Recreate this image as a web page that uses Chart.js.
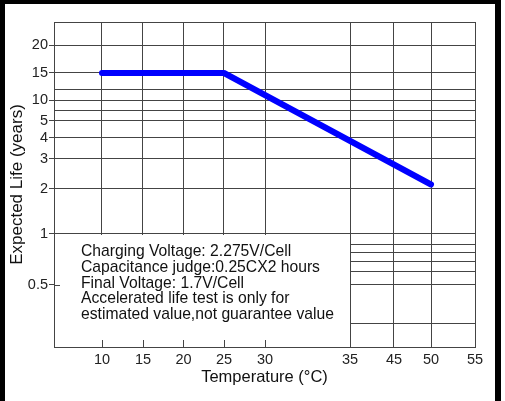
<!DOCTYPE html>
<html>
<head>
<meta charset="utf-8">
<script src="https://cdn.jsdelivr.net/npm/chart.js@4/dist/chart.umd.min.js"></script>
<style>
html, body { margin: 0; padding: 0; background: #fff; }
#wrap { position: relative; width: 505px; height: 401px; }
</style>
</head>
<body>
<div id="wrap"><canvas id="life" width="505" height="401"></canvas></div>
<script>
// expected life of the cell against temperature
var temps = [10, 25, 50];
var lifeYears = [15, 15, 2.15];

// printed tick labels
var xTicks = [10, 15, 20, 25, 30, 35, 45, 50, 55];
var yTicks = [0.5, 1, 2, 3, 4, 5, 10, 15, 20];
// unlabelled rules of the printed grid
var yRules = [0.3, 0.6, 0.7, 0.8, 0.9, 7, 12, 25];

var notes = [
    'Charging Voltage: 2.275V/Cell',
    'Capacitance judge:0.25CX2 hours',
    'Final Voltage: 1.7V/Cell',
    'Accelerated life test is only for',
    'estimated value,not guarantee value'
];

// the printed axes are not even, so each axis is stretched piece by piece
// [value, share of the axis length]
var xStops = [[5, 0], [10, 0.114], [15, 0.2114], [20, 0.3076], [25, 0.4038], [30, 0.5012],
              [35, 0.7031], [45, 0.8076], [50, 0.8955], [55, 1]];
var yStops = [[0.2, 0], [0.3, 0.0738], [0.5, 0.1908], [0.6, 0.2338], [0.7, 0.263], [0.8, 0.2923],
              [0.9, 0.3169], [1, 0.3477], [2, 0.4862], [3, 0.5785], [4, 0.6431], [5, 0.6954],
              [7, 0.7262], [10, 0.76], [12, 0.7938], [15, 0.8431], [20, 0.9292], [25, 1]];

class StretchScale extends Chart.LinearScale {
    determineDataLimits() {
        var s = this.options.stops;
        this.min = s[0][0];
        this.max = s[s.length - 1][0];
    }
    buildTicks() {
        return this.options.tickValues.map(function (v) { return { value: v }; });
    }
    toShare(v) {
        var s = this.options.stops;
        if (v <= s[0][0]) return s[0][1];
        for (var i = 1; i < s.length; i++) {
            if (v <= s[i][0]) {
                var t = (v - s[i - 1][0]) / (s[i][0] - s[i - 1][0]);
                return s[i - 1][1] + t * (s[i][1] - s[i - 1][1]);
            }
        }
        return s[s.length - 1][1];
    }
    getPixelForValue(v) {
        if (v === null || isNaN(v)) return NaN;
        return this.getPixelForDecimal(this.toShare(v));
    }
    getValueForPixel(p) {
        var d = this.getDecimalForPixel(p), s = this.options.stops;
        for (var i = 1; i < s.length; i++) {
            if (d <= s[i][1]) {
                var t = (d - s[i - 1][1]) / (s[i][1] - s[i - 1][1]);
                return s[i - 1][0] + t * (s[i][0] - s[i - 1][0]);
            }
        }
        return s[s.length - 1][0];
    }
}
StretchScale.id = 'stretch';
StretchScale.defaults = {};
Chart.register(StretchScale);

var gridColor = '#444';
var font = '"Liberation Sans", Arial, sans-serif';

var notePlugin = {
    id: 'notes',
    beforeDatasetsDraw: function (chart) {
        var ctx = chart.ctx, x = chart.scales.x, y = chart.scales.y, a = chart.chartArea;
        var right = Math.round(x.getPixelForValue(35));
        var top = Math.round(y.getPixelForValue(1));
        var left = Math.round(a.left);
        var bottom = Math.round(a.bottom);
        ctx.save();
        // lower left corner of the grid is left blank for the notes
        ctx.fillStyle = '#fff';
        ctx.fillRect(left + 1, top + 1, right - left - 1, bottom - top - 1);
        ctx.strokeStyle = gridColor;
        ctx.lineWidth = 1;
        ctx.beginPath();
        xTicks.forEach(function (v) {
            if (v < 35) {
                var px = Math.round(x.getPixelForValue(v)) + 0.5;
                ctx.moveTo(px, bottom);
                ctx.lineTo(px, bottom - 7);
            }
        });
        var py = Math.round(y.getPixelForValue(0.5)) + 0.5;
        ctx.moveTo(left, py);
        ctx.lineTo(left + 6, py);
        ctx.stroke();

        ctx.fillStyle = '#111';
        ctx.font = '15.7px ' + font;
        ctx.textBaseline = 'alphabetic';
        notes.forEach(function (t, i) {
            ctx.fillText(t, left + 27, top + 22 + i * 15.8);
        });
        ctx.restore();
    },
    afterDraw: function (chart) {
        var ctx = chart.ctx;
        ctx.save();
        ctx.fillStyle = '#000';
        ctx.fillRect(0, 0, 501, 4);
        ctx.fillRect(0, 0, 5, 401);
        ctx.fillRect(495, 0, 6, 401);
        ctx.restore();
    }
};

var ctx = document.getElementById('life').getContext('2d');

var lifeChart = new Chart(ctx, {
    type: 'line',
    data: {
        datasets: [{
            data: temps.map(function (t, i) { return { x: t, y: lifeYears[i] }; }),
            borderColor: '#0000ff',
            borderWidth: 6,
            borderCapStyle: 'round',
            borderJoinStyle: 'round',
            pointRadius: 0,
            tension: 0
        }]
    },
    options: {
        responsive: false,
        animation: false,
        devicePixelRatio: 1,
        layout: { padding: { top: 22, right: 30, bottom: 0, left: 0 } },
        plugins: { legend: { display: false }, tooltip: { enabled: false } },
        scales: {
            x: {
                type: 'stretch',
                stops: xStops,
                tickValues: xTicks,
                afterFit: function (s) { s.height = 54; },
                grid: { color: gridColor, drawTicks: false },
                border: { color: gridColor },
                ticks: {
                    autoSkip: false,
                    maxRotation: 0,
                    padding: 4,
                    color: '#222',
                    font: { family: font, size: 14.5 },
                    callback: function (v) { return String(v); }
                },
                title: {
                    display: true,
                    text: 'Temperature (°C)',
                    color: '#111',
                    font: { family: font, size: 16.5 },
                    padding: { top: 0, bottom: 13.5 }
                }
            },
            y: {
                type: 'stretch',
                stops: yStops,
                tickValues: yTicks.concat(yRules).sort(function (p, q) { return p - q; }),
                afterFit: function (s) { s.width = 54; },
                grid: {
                    color: gridColor,
                    tickLength: 5,
                    // only the labelled values get a tick outside the axis
                    tickColor: function (c) {
                        return c.tick && yTicks.indexOf(c.tick.value) >= 0 ? gridColor : 'rgba(0,0,0,0)';
                    }
                },
                border: { color: gridColor },
                ticks: {
                    autoSkip: false,
                    padding: 1,
                    color: '#222',
                    font: { family: font, size: 14.5 },
                    callback: function (v) { return yTicks.indexOf(v) >= 0 ? String(v) : ''; }
                },
                title: {
                    display: true,
                    text: 'Expected Life (years)',
                    color: '#111',
                    font: { family: font, size: 17 },
                    padding: { top: 7, bottom: 0 }
                }
            }
        }
    },
    plugins: [notePlugin]
});
</script>
</body>
</html>
